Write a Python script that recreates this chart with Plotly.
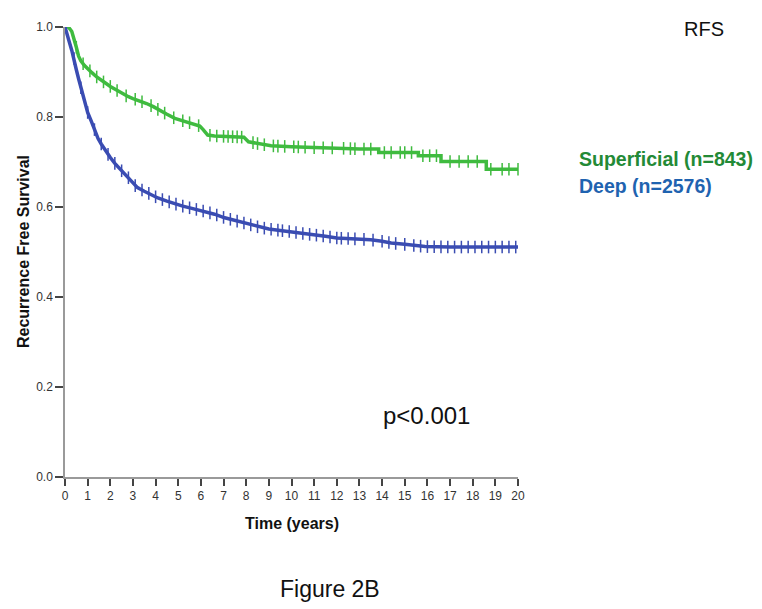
import numpy as np
import plotly.graph_objects as go

# Kaplan-Meier curves (time in years, survival proportion)
superficial_t = [0, 0.15, 0.3, 0.4, 0.5, 0.6, 0.7, 0.85, 1.0, 1.2, 1.4, 1.6, 1.8, 2.0, 2.2, 2.4,
                 2.6, 2.8, 3.0, 3.3, 3.6, 3.9, 4.2, 4.5, 4.85, 5.1, 5.4, 5.7, 5.95, 6.1, 6.3, 6.6,
                 7.0, 7.5, 7.9, 8.1, 8.6, 9.1, 10.0, 11.0, 12.0, 13.0, 13.85, 13.85, 15.6, 15.6,
                 16.6, 16.6, 18.6, 18.6, 20.0]
superficial_s = [1.0, 1.0, 0.99, 0.975, 0.955, 0.935, 0.925, 0.915, 0.907, 0.898, 0.889, 0.881,
                 0.875, 0.868, 0.862, 0.856, 0.849, 0.845, 0.841, 0.836, 0.830, 0.823, 0.814,
                 0.806, 0.797, 0.793, 0.789, 0.784, 0.780, 0.772, 0.760, 0.758, 0.757, 0.756,
                 0.755, 0.745, 0.740, 0.736, 0.734, 0.732, 0.731, 0.729, 0.729, 0.721, 0.721,
                 0.714, 0.714, 0.701, 0.701, 0.684, 0.684]

deep_t = [0, 0.1, 0.2, 0.3, 0.4, 0.5, 0.6, 0.7, 0.8, 0.9, 1.0, 1.16, 1.3, 1.46, 1.6, 1.8, 2.0,
          2.2, 2.4, 2.6, 2.8, 3.0, 3.2, 3.5, 3.8, 4.1, 4.5, 4.85, 5.2, 5.6, 6.2, 6.6, 7.05, 7.5,
          8.0, 8.5, 9.0, 9.5, 10.0, 10.5, 11.0, 11.5, 12.0, 12.9, 13.5, 14.0, 14.4, 15.0, 15.5,
          15.9, 17.0, 18.0, 19.0, 20.0]
deep_s = [1.0, 0.985, 0.965, 0.948, 0.93, 0.905, 0.885, 0.865, 0.845, 0.826, 0.81, 0.791, 0.772,
          0.752, 0.74, 0.724, 0.71, 0.697, 0.686, 0.675, 0.665, 0.652, 0.643, 0.635, 0.628,
          0.62, 0.613, 0.607, 0.602, 0.597, 0.59, 0.584, 0.576, 0.57, 0.563, 0.556, 0.551,
          0.548, 0.545, 0.541, 0.538, 0.535, 0.531, 0.529, 0.527, 0.524, 0.520, 0.517, 0.514,
          0.512, 0.511, 0.511, 0.511, 0.511]

# Censoring marks (approximate times)
superficial_censor = [0.5, 0.8, 1.1, 1.4, 1.7, 2.0, 2.3, 2.7, 3.1, 3.4, 3.8, 4.1, 4.4, 4.8, 5.2,
                      5.5, 5.9, 6.4, 6.7, 7.0, 7.2, 7.4, 7.6, 7.8, 8.3, 8.5, 8.8, 9.2, 9.4, 9.7,
                      10.1, 10.3, 10.6, 11.0, 11.4, 11.8, 12.3, 12.6, 12.8, 13.2, 13.5, 14.1,
                      14.4, 14.8, 15.0, 15.3, 15.8, 16.1, 16.4, 17.0, 17.4, 17.8, 18.2, 18.8,
                      19.3, 19.6, 20.0]
deep_censor = [0.4, 0.7, 1.0, 1.3, 1.6, 1.9, 2.2, 2.5, 2.8, 3.1, 3.4, 3.7, 4.0, 4.3, 4.6, 4.9,
               5.2, 5.5, 5.8, 6.1, 6.4, 6.7, 7.0, 7.3, 7.6, 7.9, 8.2, 8.5, 8.8, 9.1, 9.4, 9.6,
               9.9, 10.2, 10.5, 10.8, 11.1, 11.4, 11.7, 12.0, 12.2, 12.5, 12.8, 13.2, 13.6,
               14.0, 14.3, 14.6, 15.0, 15.4, 15.7, 16.0, 16.3, 16.6, 16.9, 17.2, 17.5, 17.8,
               18.1, 18.4, 18.7, 19.0, 19.3, 19.6, 19.9]

x_ticks = list(range(0, 21))
y_ticks = [0.0, 0.2, 0.4, 0.6, 0.8, 1.0]
y_ticktext = ["0.0", "0.2", "0.4", "0.6", "0.8", "1.0"]

GREEN = "#3fbb3f"
BLUE = "#3a4cb2"

fig = go.Figure()
for t, s, cens, c in [(superficial_t, superficial_s, superficial_censor, GREEN),
                      (deep_t, deep_s, deep_censor, BLUE)]:
    fig.add_trace(go.Scatter(x=t, y=s, mode="lines", line=dict(color=c, width=3.5),
                             showlegend=False, hoverinfo="skip"))
    cy = np.interp(cens, [tt + 1e-9 * i for i, tt in enumerate(t)], s)
    fig.add_trace(go.Scatter(x=cens, y=cy, mode="markers",
                             marker=dict(symbol="line-ns", size=9, line=dict(color=c, width=1.5)),
                             showlegend=False, hoverinfo="skip", cliponaxis=False))

axis_font = dict(family="Liberation Sans, Arial, sans-serif", size=12, color="#333333")
fig.update_xaxes(range=[0, 20], tickvals=x_ticks, showline=True, linecolor="#9a9a9a",
                 linewidth=1.5, ticks="outside", ticklen=7, tickwidth=1.5, tickcolor="#444444",
                 showgrid=False, zeroline=False, tickfont=axis_font, fixedrange=True)
fig.update_yaxes(range=[0, 1], tickvals=y_ticks, ticktext=y_ticktext, showline=True,
                 linecolor="#9a9a9a", linewidth=1.5, ticks="outside", ticklen=8, tickwidth=1.5,
                 tickcolor="#444444", showgrid=False, zeroline=False, tickfont=axis_font,
                 fixedrange=True)

txt_font = "Liberation Sans, Arial, sans-serif"
ann = [
    dict(text="RFS", x=1.411, y=0.9956, font=dict(size=20, color="#111111", family=txt_font)),
    dict(text="<b>Superficial (n=843)</b>", x=1.13, y=0.707, xanchor="left",
         font=dict(size=19.5, color="#238a36", family=txt_font)),
    dict(text="<b>Deep (n=2576)</b>", x=1.13, y=0.6476, xanchor="left",
         font=dict(size=19.5, color="#1f63b0", family=txt_font)),
    dict(text="p&lt;0.001", x=0.797, y=0.1366, font=dict(size=24, color="#111111", family=txt_font)),
    dict(text="Figure 2B", x=0.585, y=-0.249, font=dict(size=23, color="#111111", family=txt_font)),
    dict(text="<b>Time (years)</b>", x=0.501, y=-0.1035,
         font=dict(size=16, color="#111111", family=txt_font)),
    dict(text="<b>Recurrence Free Survival</b>", x=-0.0927, y=0.5, textangle=-90,
         font=dict(size=16, color="#111111", family=txt_font)),
]
for a in ann:
    a.setdefault("xanchor", "center")
    fig.add_annotation(xref="paper", yref="paper", showarrow=False, yanchor="middle", **a)

fig.update_layout(width=762, height=609, margin=dict(l=57, r=252, t=15, b=140),
                  plot_bgcolor="white", paper_bgcolor="white", showlegend=False)

fig.write_html("out.html")
